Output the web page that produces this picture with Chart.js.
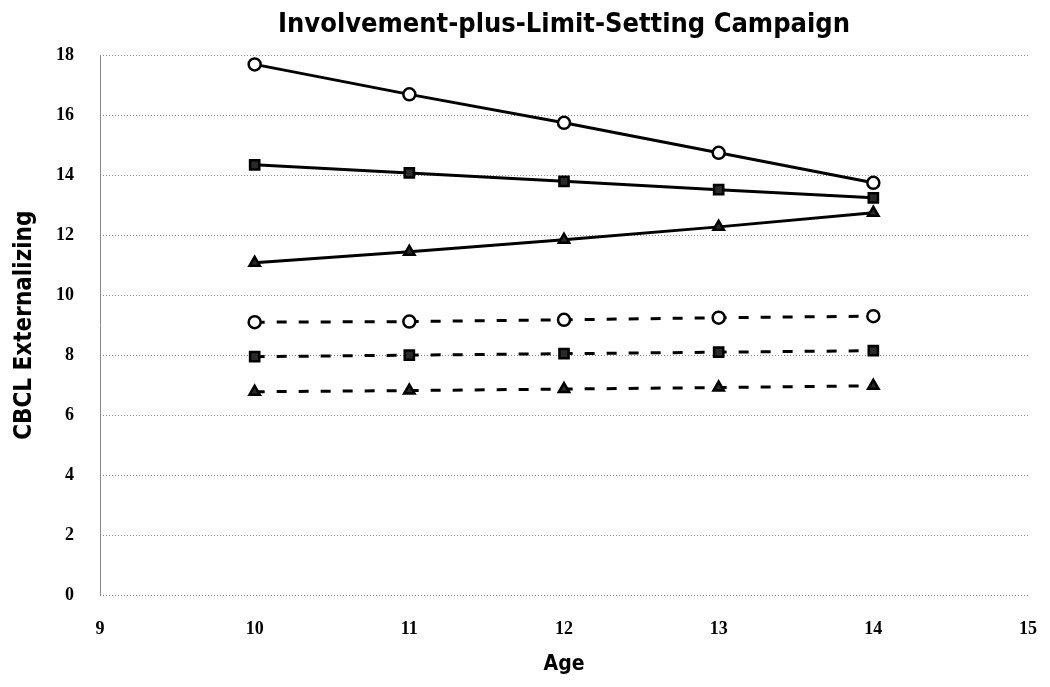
<!DOCTYPE html>
<html>
<head>
<meta charset="utf-8">
<script src="https://cdn.jsdelivr.net/npm/chart.js@4/dist/chart.umd.min.js"></script>
<style>
  html, body { margin: 0; padding: 0; background: #fff; }
  #wrap { width: 1050px; height: 687px; }
</style>
</head>
<body>
<div id="wrap"><canvas id="chart" width="1050" height="687"></canvas></div>
<script>
const ages = [10, 11, 12, 13, 14];

// solid lines
const solidCircle = [17.7, 16.7, 15.75, 14.75, 13.75];
const solidSquare = [14.35, 14.08, 13.8, 13.52, 13.25];
const solidTriangle = [11.08, 11.45, 11.85, 12.28, 12.75];

// dashed lines
const dashCircle = [9.1, 9.12, 9.18, 9.25, 9.3];
const dashSquare = [7.95, 8.0, 8.05, 8.1, 8.15];
const dashTriangle = [6.78, 6.82, 6.87, 6.92, 6.98];

const xTicks = [9, 10, 11, 12, 13, 14, 15];
const yTicks = [0, 2, 4, 6, 8, 10, 12, 14, 16, 18];

const FONT = "'DejaVu Sans Condensed', 'DejaVu Sans', sans-serif";
const TICKFONT = "'Liberation Serif', serif";

function series(vals, style, dashed) {
  return {
    data: ages.map((a, i) => ({ x: a, y: vals[i] })),
    borderColor: "#000",
    borderWidth: 3,
    borderDash: dashed ? [10, 12] : [],
    pointStyle: style,
    pointRadius: style === "rect" ? 6.5 : 6,
    pointBorderWidth: 2.5,
    pointBorderColor: "#000",
    pointBackgroundColor: style === "circle" ? "#fff" : "#2a2a2a",
    tension: 0,
    showLine: true
  };
}

new Chart(document.getElementById("chart"), {
  type: "scatter",
  data: {
    datasets: [
      series(solidCircle, "circle", false),
      series(solidSquare, "rect", false),
      series(solidTriangle, "triangle", false),
      series(dashCircle, "circle", true),
      series(dashSquare, "rect", true),
      series(dashTriangle, "triangle", true)
    ]
  },
  options: {
    responsive: false,
    animation: false,
    layout: { padding: { left: 10, right: 22, top: 2, bottom: 8 } },
    plugins: {
      legend: { display: false },
      tooltip: { enabled: false },
      title: {
        display: true,
        fullSize: false,
        text: "Involvement-plus-Limit-Setting Campaign",
        color: "#000",
        font: { family: FONT, size: 27, weight: "bold" },
        padding: { top: 7, bottom: 14 }
      }
    },
    scales: {
      x: {
        type: "linear",
        min: 9, max: 15,
        afterBuildTicks: ax => { ax.ticks = xTicks.map(v => ({ value: v })); },
        afterFit: ax => { ax.height = 84; ax.paddingLeft = 0; ax.paddingRight = 0; },
        grid: { display: false, drawTicks: false },
        border: { display: false },
        ticks: { color: "#000", font: { family: TICKFONT, size: 18, weight: "bold" }, padding: 24 },
        title: { display: true, text: "Age", color: "#000", font: { family: FONT, size: 21, weight: "bold" }, padding: { top: 0, bottom: 2 } }
      },
      y: {
        min: 0, max: 18,
        afterBuildTicks: ax => { ax.ticks = yTicks.map(v => ({ value: v })); },
        afterFit: ax => { ax.width = 90; ax.paddingTop = 0; ax.paddingBottom = 0; },
        grid: { color: "#999", lineWidth: 1, drawTicks: false },
        border: { display: true, color: "#888", dash: [2, 2] },
        ticks: { color: "#000", font: { family: TICKFONT, size: 18, weight: "bold" }, padding: 26 },
        title: { display: true, text: "CBCL Externalizing", color: "#000", font: { family: FONT, size: 24, weight: "bold" }, padding: { top: 0, bottom: 0 } }
      }
    }
  },
  plugins: [{
    id: "dottedGrid",
    beforeDatasetsDraw(chart) {
      // redraw horizontal gridlines as dots over a white wash
      const { ctx, chartArea, scales } = chart;
      ctx.save();
      ctx.fillStyle = "#fff";
      yTicks.forEach(v => {
        const y = Math.round(scales.y.getPixelForValue(v)) + 0.5;
        ctx.fillRect(chartArea.left + 1, y - 1, chartArea.right - chartArea.left, 2);
        ctx.strokeStyle = "#888";
        ctx.lineWidth = 1;
        ctx.setLineDash([1, 2]);
        ctx.beginPath();
        ctx.moveTo(chartArea.left, y);
        ctx.lineTo(chartArea.right, y);
        ctx.stroke();
      });
      ctx.restore();
    }
  }]
});
</script>
</body>
</html>
